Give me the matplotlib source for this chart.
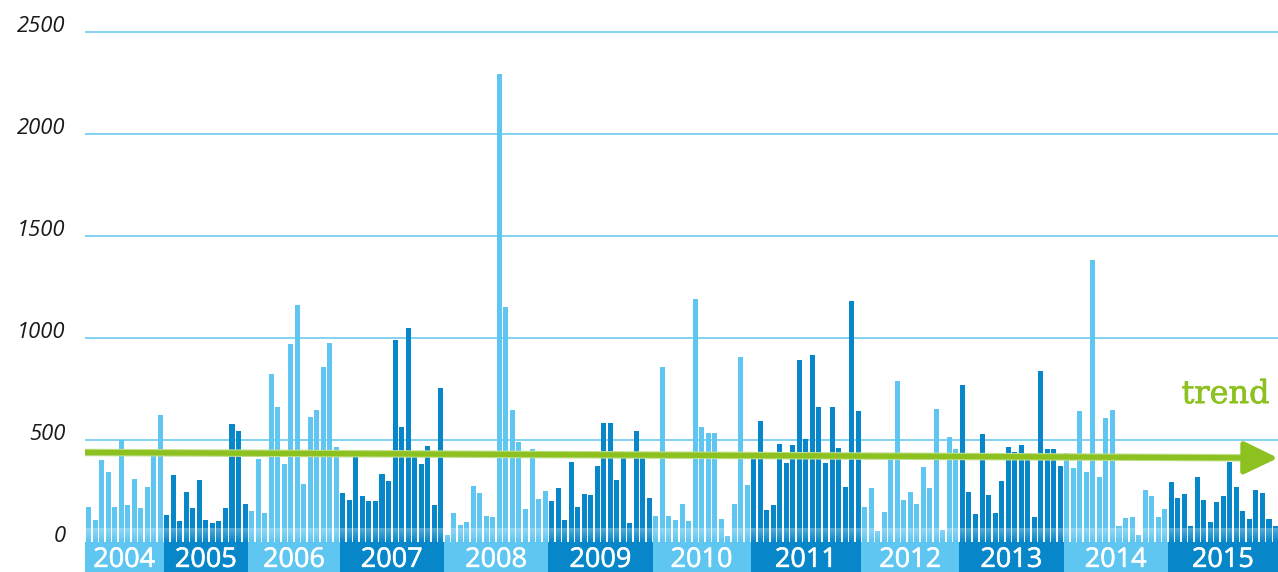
import matplotlib
matplotlib.use("Agg")
import matplotlib.pyplot as plt
import matplotlib.patheffects as pe
import numpy as np
from matplotlib.patches import Rectangle, FancyArrowPatch

years = ["2004", "2005", "2006", "2007", "2008", "2009", "2010", "2011",
         "2012", "2013", "2014", "2015"]
v2004 = [170, 108, 402, 343, 172, 501, 181, 309, 167, 270, 433, 622]
v2005 = [132, 328, 103, 245, 167, 304, 108, 93, 103, 167, 578, 544, 186]
v2006 = [152, 407, 142, 824, 662, 382, 971, 1162, 284, 613, 647, 858, 975, 466]
v2007 = [240, 206, 431, 225, 201, 201, 333, 299, 990, 564, 1049, 422, 382, 471, 181, 755]
v2008 = [34, 142, 83, 98, 275, 240, 127, 122, 2294, 1152, 647, 490, 162, 456, 211, 250]
v2009 = [201, 265, 108, 392, 172, 235, 230, 373, 583, 583, 304, 412, 93, 544, 441, 216]
v2010 = [127, 858, 127, 108, 186, 103, 1191, 564, 534, 534, 113, 29, 186, 907, 279]
v2011 = [441, 593, 157, 181, 480, 387, 475, 892, 505, 917, 662, 387, 662, 461, 270, 1181, 642]
v2012 = [172, 265, 54, 147, 426, 789, 206, 245, 186, 368, 265, 652, 59, 515, 456]
v2013 = [770, 245, 137, 529, 230, 142, 299, 466, 441, 475, 436, 122, 838, 456, 456, 373]
v2014 = [436, 363, 642, 343, 1382, 319, 608, 647, 78, 118, 122, 34, 255, 225, 122, 162]
v2015 = [294, 216, 235, 78, 319, 206, 98, 196, 225, 392, 270, 152, 113, 255, 240, 113, 78]
series = [v2004, v2005, v2006, v2007, v2008, v2009, v2010, v2011, v2012, v2013, v2014, v2015]

trend_start, trend_end = 439, 412
yticks = [0, 500, 1000, 1500, 2000, 2500]

LIGHT = "#5EC6F1"
DARK = "#0787C9"
GREEN = "#8CC11F"
GRID = "#6ECAEF"

fig = plt.figure(figsize=(12.78, 5.72), dpi=100)
ax = fig.add_axes([85 / 1278, 0, 1193 / 1278, 1])
x0, x1 = -0.54, 182.38
ymin, ymax = -147, 2657
ax.set_xlim(x0, x1)
ax.set_ylim(ymin, ymax)

for s in ax.spines.values():
    s.set_visible(False)
ax.set_xticks([])
ax.set_yticks(yticks)
ax.set_yticklabels([str(t) for t in yticks])
ax.tick_params(axis="y", length=0, pad=14)
for lab in ax.get_yticklabels():
    lab.set_fontfamily(["Open Sans", "DejaVu Sans"])
    lab.set_fontstyle("italic")
    lab.set_fontsize(15.8)
    lab.set_color("#1a1a1a")
    lab.set_va("baseline")
for t in yticks[1:]:
    ax.axhline(t, color=GRID, lw=1.2, zorder=1)

idx = 0
for i, vals in enumerate(series):
    col = LIGHT if i % 2 == 0 else DARK
    xs = np.arange(idx, idx + len(vals))
    ax.bar(xs, vals, width=0.77, color=col, zorder=2, linewidth=0)
    left = x0 if i == 0 else idx - 0.5
    right = x1 if i == len(series) - 1 else idx + len(vals) - 0.5
    ax.add_patch(Rectangle((left, ymin), right - left, -ymin, color=col,
                           zorder=4, linewidth=0, clip_on=False))
    ax.text((left + right) / 2, -122, years[i], color="white", ha="center",
            va="baseline", fontsize=19.5, family=["Open Sans", "DejaVu Sans"],
            zorder=5,
            path_effects=[pe.withStroke(linewidth=0.4, foreground="white")])
    idx += len(vals)

# subtle fade at the bottom of bars
grad = np.zeros((20, 2, 4))
grad[..., :3] = 1.0
grad[..., 3] = np.linspace(0.0, 0.3, 20)[::-1, None]
ax.imshow(grad, extent=(x0, x1, 0, 66), aspect="auto", zorder=3,
          origin="upper", interpolation="bilinear")
ax.set_xlim(x0, x1)
ax.set_ylim(ymin, ymax)

# trend arrow
ax.plot([x0, x1 - 3], [trend_start, trend_end + 0.5], color="#BFDD8A",
        lw=5.4, zorder=5, solid_capstyle="butt")
arr = FancyArrowPatch((x0, trend_start), (x1, trend_end),
                      arrowstyle="-|>,head_length=1.45,head_width=0.7",
                      mutation_scale=14.4, color=GREEN, lw=3.8,
                      shrinkA=0, shrinkB=0, zorder=6)
ax.add_patch(arr)
ax.text(0.993, 681, "trend", transform=ax.get_yaxis_transform(),
        ha="right", va="baseline", color=GREEN, fontsize=23,
        family=["DejaVu Serif"], zorder=6,
        path_effects=[pe.withStroke(linewidth=0.5, foreground=GREEN)])

fig.savefig("out.png", dpi=100)
